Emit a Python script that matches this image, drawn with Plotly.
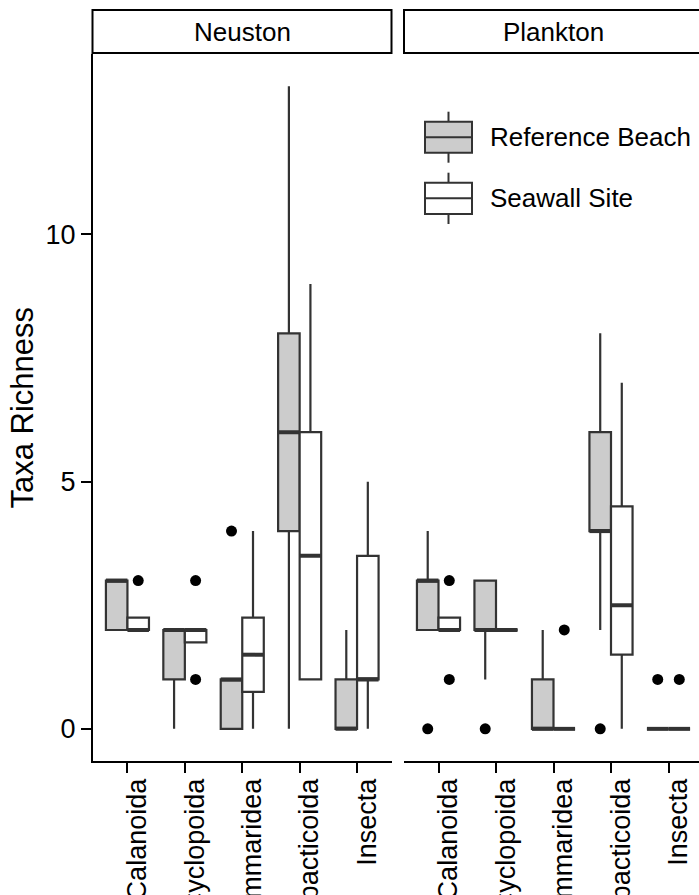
import plotly.graph_objects as go

# ---------------- data ----------------
categories = ["Calanoida", "Cyclopoida", "Gammaridea", "Harpacticoida", "Insecta"]
facets = ["Neuston", "Plankton"]
groups = ["Reference Beach", "Seawall Site"]

# Neuston - Reference Beach
neu_ref_q1 = [2, 1, 0, 4, 0]
neu_ref_med = [3, 2, 1, 6, 0]
neu_ref_q3 = [3, 2, 1, 8, 1]
neu_ref_lo = [2, 0, 0, 0, 0]
neu_ref_hi = [3, 2, 1, 13, 2]
neu_ref_out_cat = ["Gammaridea"]
neu_ref_out_val = [4]

# Neuston - Seawall Site
neu_sea_q1 = [2, 1.75, 0.75, 1, 1]
neu_sea_med = [2, 2, 1.5, 3.5, 1]
neu_sea_q3 = [2.25, 2, 2.25, 6, 3.5]
neu_sea_lo = [2, 1.75, 0, 1, 0]
neu_sea_hi = [2.25, 2, 4, 9, 5]
neu_sea_out_cat = ["Calanoida", "Cyclopoida", "Cyclopoida"]
neu_sea_out_val = [3, 3, 1]

# Plankton - Reference Beach
pla_ref_q1 = [2, 2, 0, 4, 0]
pla_ref_med = [3, 2, 0, 4, 0]
pla_ref_q3 = [3, 3, 1, 6, 0]
pla_ref_lo = [2, 1, 0, 2, 0]
pla_ref_hi = [4, 3, 2, 8, 0]
pla_ref_out_cat = ["Calanoida", "Cyclopoida", "Harpacticoida", "Insecta"]
pla_ref_out_val = [0, 0, 0, 1]

# Plankton - Seawall Site
pla_sea_q1 = [2, 2, 0, 1.5, 0]
pla_sea_med = [2, 2, 0, 2.5, 0]
pla_sea_q3 = [2.25, 2, 0, 4.5, 0]
pla_sea_lo = [2, 2, 0, 0, 0]
pla_sea_hi = [2.25, 2, 0, 7, 0]
pla_sea_out_cat = ["Calanoida", "Calanoida", "Gammaridea", "Insecta"]
pla_sea_out_val = [3, 1, 2, 1]

y_ticks = [0, 5, 10]

# ---------------- styling ----------------
FONT = "Liberation Sans, Arial, Helvetica, sans-serif"
LINE = "#333333"
FILLS = {"Reference Beach": "#cccccc", "Seawall Site": "#ffffff"}
DODGE = 0.75
BOXW = DODGE / 2
OFFS = {"Reference Beach": -DODGE / 4, "Seawall Site": DODGE / 4}

W_FIG, H_FIG = 699, 895
ML, MR, MT, MB = 93, 0, 54, 134
PW = W_FIG - ML - MR
PH = H_FIG - MT - MB


def px(xp):
    return (xp - ML) / PW


def py(yp):
    return (H_FIG - MB - yp) / PH


series = {
    ("Neuston", "Reference Beach"): (neu_ref_q1, neu_ref_med, neu_ref_q3, neu_ref_lo, neu_ref_hi, neu_ref_out_cat, neu_ref_out_val),
    ("Neuston", "Seawall Site"): (neu_sea_q1, neu_sea_med, neu_sea_q3, neu_sea_lo, neu_sea_hi, neu_sea_out_cat, neu_sea_out_val),
    ("Plankton", "Reference Beach"): (pla_ref_q1, pla_ref_med, pla_ref_q3, pla_ref_lo, pla_ref_hi, pla_ref_out_cat, pla_ref_out_val),
    ("Plankton", "Seawall Site"): (pla_sea_q1, pla_sea_med, pla_sea_q3, pla_sea_lo, pla_sea_hi, pla_sea_out_cat, pla_sea_out_val),
}

fig = go.Figure()
axes = {"Neuston": ("x", "y"), "Plankton": ("x2", "y2")}

for facet in facets:
    xa, ya = axes[facet]
    for g in groups:
        q1, med, q3, lo, hi, ocat, oval = series[(facet, g)]
        pos = [i + 1 + OFFS[g] for i in range(len(categories))]
        fig.add_trace(go.Box(
            x=pos, q1=q1, median=med, q3=q3, lowerfence=lo, upperfence=hi,
            width=BOXW, fillcolor=FILLS[g], line=dict(color=LINE, width=2.2),
            whiskerwidth=0, boxpoints=False, name=g, showlegend=False,
            xaxis=xa, yaxis=ya, hoverinfo="skip",
        ))
        # thick median segments (ggplot fatten)
        mx, my = [], []
        for p, m in zip(pos, med):
            mx += [p - BOXW / 2, p + BOXW / 2, None]
            my += [m, m, None]
        fig.add_trace(go.Scatter(x=mx, y=my, mode="lines", line=dict(color=LINE, width=4),
                                 showlegend=False, xaxis=xa, yaxis=ya, hoverinfo="skip"))
        # outliers
        ox = [categories.index(c) + 1 + OFFS[g] for c in ocat]
        fig.add_trace(go.Scatter(x=ox, y=oval, mode="markers",
                                 marker=dict(color="black", size=11),
                                 showlegend=False, xaxis=xa, yaxis=ya, hoverinfo="skip"))

# ---------------- layout ----------------
tick_spacing_px = (391.5 - 92.5) / 5.2
right_range_end = 0.4 + (W_FIG - 404) / tick_spacing_px

xcommon = dict(
    tickvals=list(range(1, len(categories) + 1)), ticktext=categories,
    tickangle=-90, ticks="outside", ticklen=10, tickwidth=2, tickcolor="black",
    showline=True, linecolor="black", linewidth=2, showgrid=False, zeroline=False,
    tickfont=dict(family=FONT, size=27, color="black"), automargin=False,
    ticklabelshift=10, ticklabelstandoff=-5,
)

fig.update_layout(
    width=W_FIG, height=H_FIG,
    margin=dict(l=ML, r=MR, t=MT, b=MB, pad=0),
    paper_bgcolor="white", plot_bgcolor="white",
    boxmode="overlay", showlegend=False,
    font=dict(family=FONT, color="black"),
    xaxis=dict(domain=[0, px(391.5)], range=[0.4, 5.6], anchor="y", **xcommon),
    xaxis2=dict(domain=[px(404), 1], range=[0.4, right_range_end], anchor="y2", **xcommon),
    yaxis=dict(domain=[0, 1], range=[-0.65, 13.65], anchor="x", tickvals=y_ticks,
               ticks="outside", ticklen=10, tickwidth=2, tickcolor="black",
               showline=True, linecolor="black", linewidth=2, showgrid=False, zeroline=False,
               tickfont=dict(family=FONT, size=27, color="black"), automargin=False),
    yaxis2=dict(domain=[0, 1], matches="y", anchor="x2", showline=False, showticklabels=False,
                ticks="", showgrid=False, zeroline=False),
)

shapes = []
annotations = []
# facet strips
strip_x = {"Neuston": (92.5, 391.5), "Plankton": (404, 706)}
for facet in facets:
    x0, x1 = strip_x[facet]
    shapes.append(dict(type="rect", xref="paper", yref="paper", x0=px(x0), x1=px(x1),
                       y0=py(53), y1=py(10), line=dict(color="black", width=2),
                       fillcolor="white", layer="above"))
    annotations.append(dict(xref="paper", yref="paper", x=px((x0 + min(x1, 703)) / 2), y=py(32),
                            text=facet, showarrow=False, xanchor="center", yanchor="middle",
                            font=dict(family=FONT, size=26, color="black")))

# y axis title
annotations.append(dict(xref="paper", yref="paper", x=px(22), y=0.5, text="Taxa Richness",
                        textangle=-90, showarrow=False, xanchor="center", yanchor="middle",
                        font=dict(family=FONT, size=31, color="black")))

# legend (drawn inside the right panel)
legend_rows = {"Reference Beach": (121.7, 152.7), "Seawall Site": (182.7, 214)}
kx0, kx1 = 425, 472
for g in groups:
    top, bot = legend_rows[g]
    mid = (top + bot) / 2
    cx = (kx0 + kx1) / 2
    shapes.append(dict(type="line", xref="paper", yref="paper", x0=px(cx), x1=px(cx),
                       y0=py(top - 10), y1=py(bot + 10), line=dict(color=LINE, width=2)))
    shapes.append(dict(type="rect", xref="paper", yref="paper", x0=px(kx0), x1=px(kx1),
                       y0=py(bot), y1=py(top), fillcolor=FILLS[g], line=dict(color=LINE, width=2)))
    shapes.append(dict(type="line", xref="paper", yref="paper", x0=px(kx0), x1=px(kx1),
                       y0=py(mid), y1=py(mid), line=dict(color=LINE, width=2)))
    annotations.append(dict(xref="paper", yref="paper", x=px(488), y=py(mid), text=g,
                            showarrow=False, xanchor="left", yanchor="middle",
                            font=dict(family=FONT, size=26, color="black")))

fig.update_layout(shapes=shapes, annotations=annotations)

fig.write_html("out.html")
